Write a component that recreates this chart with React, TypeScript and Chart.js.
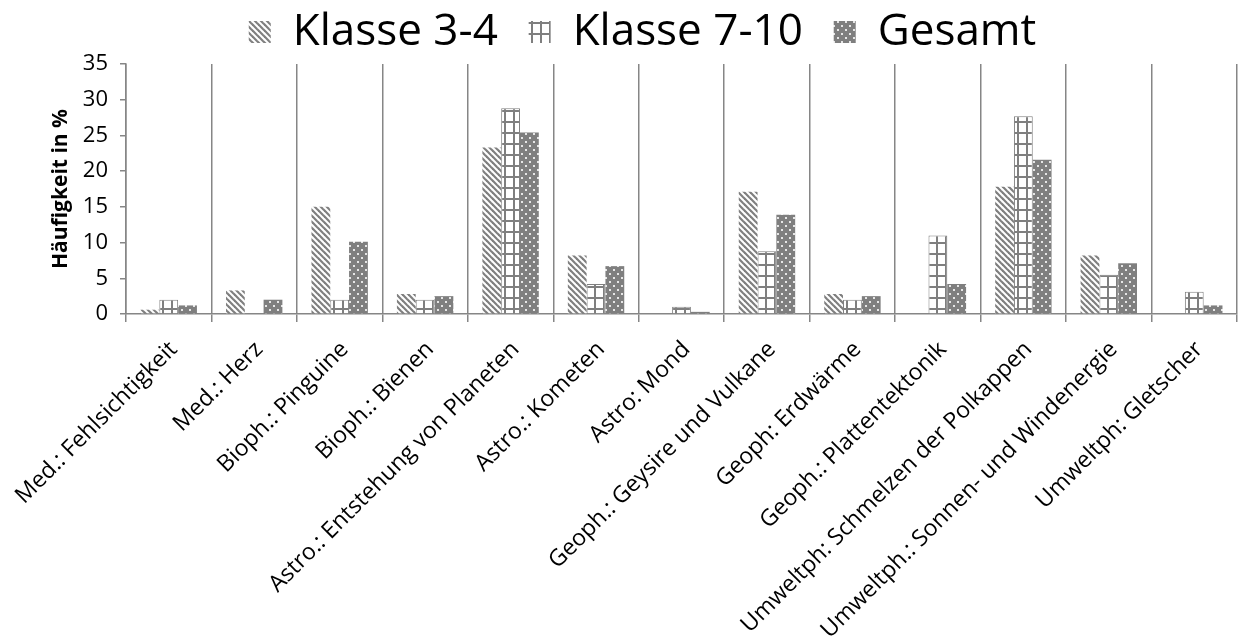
import React, { useEffect, useRef } from 'react';
import { Chart, registerables } from 'chart.js';

Chart.register(...registerables);

const categories = [
  'Med.: Fehlsichtigkeit',
  'Med.: Herz',
  'Bioph.: Pinguine',
  'Bioph.: Bienen',
  'Astro.: Entstehung von Planeten',
  'Astro.: Kometen',
  'Astro: Mond',
  'Geoph.: Geysire und Vulkane',
  'Geoph: Erdwärme',
  'Geoph.: Plattentektonik',
  'Umweltph: Schmelzen der Polkappen',
  'Umweltph.: Sonnen- und Windenergie',
  'Umweltph: Gletscher',
];

const seriesNames = ['Klasse 3-4', 'Klasse 7-10', 'Gesamt'];

const klasse34 = [0.6, 3.3, 15.0, 2.8, 23.3, 8.2, 0, 17.1, 2.8, 0, 17.8, 8.2, 0];
const klasse710 = [2.0, 0, 2.0, 2.0, 28.8, 4.2, 1.0, 8.8, 2.0, 11.0, 27.7, 5.5, 3.1];
const gesamt = [1.2, 2.0, 10.1, 2.5, 25.4, 6.7, 0.3, 13.9, 2.5, 4.2, 21.6, 7.1, 1.2];

const yMin = 0;
const yMax = 35;
const yStep = 5;

const FONT = "'Open Sans', 'Noto Sans', sans-serif";
const GRAY = '#7f7f7f';
const AXIS = '#868686';

function makePattern(kind: 'stripe' | 'grid' | 'dots'): CanvasPattern | string {
  const c = document.createElement('canvas');
  const ctx = c.getContext('2d');
  if (!ctx) return GRAY;
  if (kind === 'stripe') {
    c.width = 6;
    c.height = 6;
    ctx.fillStyle = '#ffffff';
    ctx.fillRect(0, 0, 6, 6);
    ctx.strokeStyle = GRAY;
    ctx.lineWidth = 2.2;
    for (const o of [-6, 0, 6]) {
      ctx.beginPath();
      ctx.moveTo(o - 1, -1);
      ctx.lineTo(o + 7, 7);
      ctx.stroke();
    }
  } else if (kind === 'grid') {
    c.width = 9;
    c.height = 11;
    ctx.fillStyle = '#ffffff';
    ctx.fillRect(0, 0, 9, 11);
    ctx.fillStyle = GRAY;
    ctx.fillRect(0, 0, 2, 11);
    ctx.fillRect(0, 0, 9, 2);
  } else {
    c.width = 8;
    c.height = 8;
    ctx.fillStyle = GRAY;
    ctx.fillRect(0, 0, 8, 8);
    ctx.fillStyle = '#e6e6e6';
    ctx.fillRect(1, 1, 2, 2);
    ctx.fillRect(5, 5, 2, 2);
  }
  const p = ctx.createPattern(c, 'repeat');
  return p || GRAY;
}

export default function App() {
  const ref = useRef<HTMLCanvasElement | null>(null);

  useEffect(() => {
    document.body.style.margin = '0';
    const canvas = ref.current;
    if (!canvas) return;
    const stripe = makePattern('stripe');
    const grid = makePattern('grid');
    const dots = makePattern('dots');

    const chart = new Chart(canvas, {
      type: 'bar',
      data: {
        labels: categories,
        datasets: [
          { label: seriesNames[0], data: klasse34, backgroundColor: stripe as any, borderWidth: 0 },
          { label: seriesNames[1], data: klasse710, backgroundColor: grid as any, borderColor: GRAY, borderWidth: 1 },
          { label: seriesNames[2], data: gesamt, backgroundColor: dots as any, borderWidth: 0 },
        ],
      },
      options: {
        responsive: false,
        animation: false,
        events: [],
        datasets: {
          bar: { categoryPercentage: 0.66, barPercentage: 1.0 },
        },
        layout: { padding: { left: 48, right: 1, top: 2, bottom: 0 } },
        plugins: {
          tooltip: { enabled: false },
          legend: {
            position: 'top',
            labels: {
              font: { family: FONT, size: 44 },
              color: '#000',
              boxWidth: 22,
              boxHeight: 22,
              padding: 8,
              generateLabels: (ch: any) => {
                const base = Chart.defaults.plugins.legend.labels.generateLabels(ch);
                return base.map((l: any, i: number) => ({
                  ...l,
                  text: i < base.length - 1 ? l.text + '  ' : l.text,
                  lineWidth: 0,
                }));
              },
            },
          },
        },
        scales: {
          x: {
            offset: true,
            grid: {
              offset: true,
              color: AXIS,
              lineWidth: 1.5,
              tickLength: 8,
              drawOnChartArea: true,
            },
            border: { color: AXIS, width: 1.5 },
            ticks: {
              autoSkip: false,
              maxRotation: 45,
              minRotation: 45,
              color: '#000',
              font: { family: FONT, size: 23 },
              padding: 14,
              labelOffset: 5,
            },
            afterFit: (scale: any) => {
              scale.height = 330;
              scale.paddingLeft = 0;
              scale.paddingRight = 0;
            },
          },
          y: {
            min: yMin,
            max: yMax,
            ticks: {
              stepSize: yStep,
              color: '#000',
              font: { family: FONT, size: 22 },
              padding: 12,
            },
            grid: {
              drawOnChartArea: false,
              color: AXIS,
              lineWidth: 1.5,
              tickLength: 6,
            },
            border: { color: AXIS, width: 1.5 },
            title: {
              display: true,
              text: 'Häufigkeit in %',
              color: '#000',
              font: { family: FONT, size: 21, weight: 'bold' },
              padding: { top: 0, bottom: 0 },
            },
            afterFit: (scale: any) => {
              scale.width = 78;
            },
          },
        },
      },
    });
    return () => chart.destroy();
  }, []);

  return (
    <div style={{ width: 1238, height: 644 }}>
      <canvas ref={ref} width={1238} height={644} style={{ display: 'block' }} />
    </div>
  );
}
